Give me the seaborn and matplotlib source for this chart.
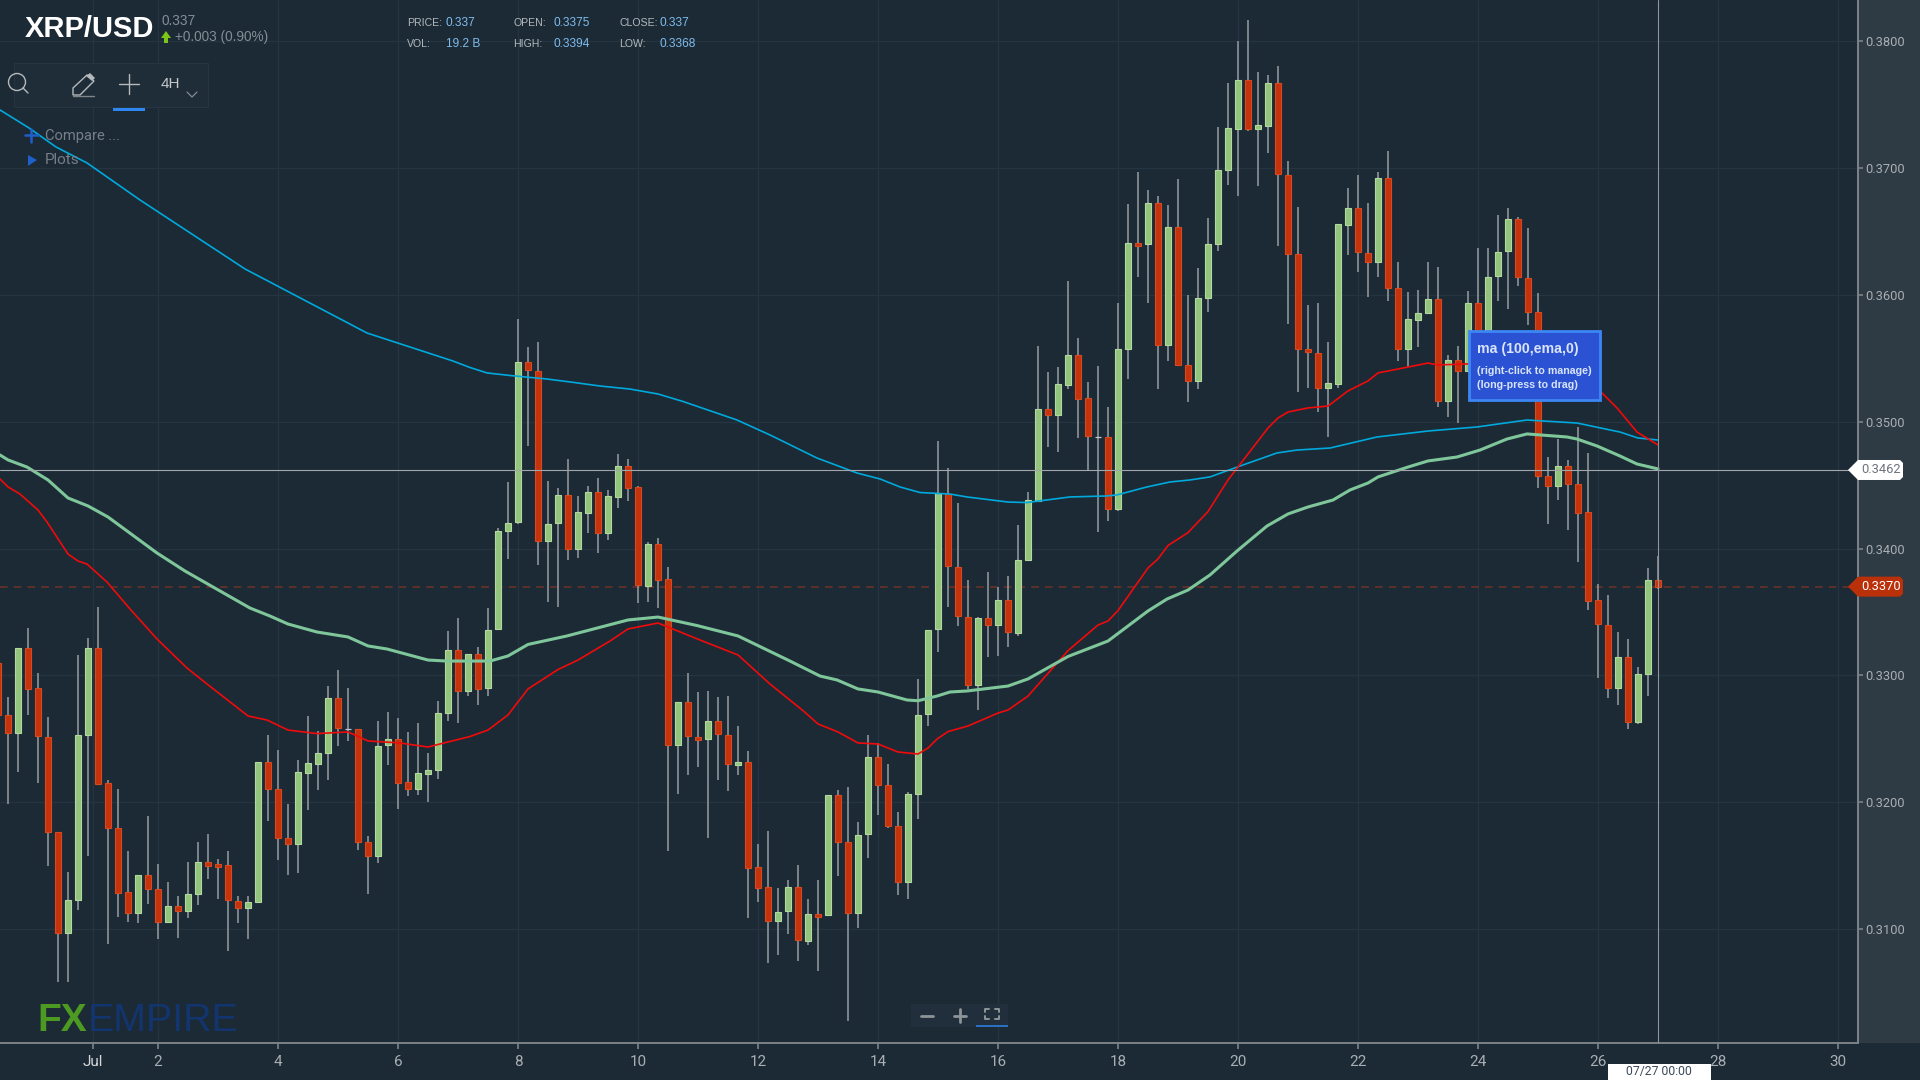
import matplotlib
matplotlib.use("Agg")
import matplotlib.pyplot as plt
from matplotlib.patches import Circle, Polygon, Rectangle
import numpy as np
import pandas as pd
import seaborn as sns

# candle -1 sits just off the left edge, one candle is 4 hours
candle_open = [
    .33099,
    .32684, .32548, .33217, .32901, .32516, .31765, .30965, .31225, .32529, .33217,
    .3215, .31794, .31289, .31123, .31428, .31318, .31053, .31182, .31144, .31273,
    .31527, .31513, .31508, .31222, .31166, .31214, .32318, .32107, .31714, .31668,
    .3223, .32302, .32388, .32821, .3258, .3258, .31684, .31572, .32449, .32495,
    .3216, .32104, .32222, .32251, .32706, .33198, .32877, .33166, .32897, .33364,
    .3414, .34208, .3547, .35399, .34062, .342, .34424, .33995, .34279, .34443,
    .34122, .34409, .34652, .34484, .33707, .3404, .33759, .32452, .32792, .32516,
    .32501, .32643, .32531, .32292, .32314, .31485, .31328, .31066, .31141, .31328,
    .30906, .31119, .31111, .32056, .31683, .3113, .31746, .32359, .32138, .3181,
    .31373, .32064, .32699, .33364, .34429, .33854, .3346, .32926, .33449, .33399,
    .33598, .33338, .33913, .34374, .35097, .35057, .3529, .35524, .35188, .34882,
    .34882, .34315, .35576, .36408, .36405, .36723, .35608, .36539, .35445, .35322,
    .35973, .36405, .36986, .37312, .37694, .37312, .37331, .37672, .36944, .36321,
    .35575, .35543, .35265, .35301, .36555, .36687, .36332, .36258, .36923, .36053,
    .35577, .35806, .35856, .35969, .35162, .35485, .35399, .35938, .3553, .36151,
    .36345, .366, .36132, .35869, .34575, .3449, .34654, .34513, .3429, .33598,
    .33398, .32898, .33144, .32633, .33008, .3375,
]
candle_close = [
    .3269,
    .32548, .33217, .32896, .32521, .31767, .30965, .31225, .32527, .33217, .32142,
    .31797, .31281, .31123, .31428, .31313, .31056, .31182, .31144, .31278, .31527,
    .315, .31486, .31227, .31166, .31211, .32318, .32104, .31719, .31668, .32238,
    .32307, .32385, .32821, .32588, .3258, .3169, .31572, .32446, .32495, .32155,
    .32104, .32227, .32257, .32703, .33198, .32877, .33166, .32896, .33356, .34137,
    .34204, .3547, .35407, .34062, .34193, .34424, .33995, .34286, .34443, .34122,
    .34413, .34652, .34477, .33711, .3404, .33756, .32452, .32792, .32519, .3249,
    .32643, .32538, .32299, .32318, .31481, .3132, .31066, .31137, .31328, .3091,
    .31119, .31096, .32056, .31687, .3113, .31743, .32359, .32135, .31813, .31373,
    .32067, .32691, .33356, .34435, .33863, .33469, .32926, .33452, .33399, .33598,
    .33341, .33907, .3438, .35097, .35057, .35296, .35524, .35182, .34887, .34882,
    .34315, .3557, .36408, .36387, .36723, .35608, .36539, .35451, .35322, .35976,
    .36399, .36984, .37318, .37694, .37312, .37339, .37672, .3695, .36324, .35576,
    .35548, .35265, .35307, .36558, .36687, .36337, .36258, .36923, .36053, .35577,
    .35809, .35859, .35969, .35162, .35485, .35399, .3594, .3553, .36145, .36342,
    .366, .3614, .35864, .34576, .3449, .34654, .3451, .34281, .3359, .33404,
    .32898, .33144, .32633, .33014, .33756, .337,
]
candle_high = [
    .3335,
    .32829, .33217, .33372, .33016, .32671, .31767, .31452, .33163, .33294, .3354,
    .32174, .32107, .31612, .31428, .31888, .31513, .31374, .31264, .31532, .31687,
    .31751, .31553, .31612, .31264, .31264, .32318, .32532, .32412, .31989, .32334,
    .32679, .32561, .32917, .33045, .32898, .3258, .3173, .32639, .32711, .3266,
    .32553, .32628, .32385, .32797, .3335, .33452, .33166, .33225, .33535, .34159,
    .34525, .35814, .35586, .35627, .34533, .34477, .34704, .34417, .34491, .34559,
    .34465, .34745, .34704, .34491, .34051, .34084, .33853, .32792, .33016, .32867,
    .32874, .32829, .32837, .32598, .32407, .31668, .31769, .31324, .31384, .31503,
    .31235, .31384, .32056, .32094, .32123, .3184, .32531, .32467, .32303, .31922,
    .32082, .32975, .33356, .34846, .34634, .34356, .33755, .3346, .33819, .33694,
    .33781, .34187, .34447, .35596, .35389, .3543, .3611, .35658, .35313, .35436,
    .35115, .35935, .3672, .36968, .36831, .36781, .36711, .36918, .35999, .36209,
    .36603, .37323, .3767, .38004, .38172, .37757, .37738, .37807, .37057, .36692,
    .35924, .35935, .35627, .36563, .36842, .36947, .36724, .36971, .37136, .36258,
    .36022, .36043, .36258, .36219, .3553, .35598, .36032, .36369, .36369, .36634,
    .36684, .36613, .36526, .36014, .34721, .34868, .34699, .34959, .3475, .33722,
    .33632, .33339, .33288, .33068, .33849, .3394,
]
candle_low = [
    .3240,
    .31989, .32235, .3269, .32155, .315, .30583, .30583, .31147, .31572, .32136,
    .3088, .31096, .31059, .31048, .31198, .3092, .31053, .3093, .31088, .31187,
    .31393, .31238, .30823, .31048, .3092, .31214, .3185, .31543, .31425, .31444,
    .31938, .32096, .32176, .32444, .32481, .3162, .31275, .31524, .32294, .31949,
    .32045, .32056, .32005, .32184, .32639, .32628, .3284, .32765, .32841, .33364,
    .33916, .34193, .34805, .33868, .3358, .33539, .33913, .33924, .34122, .33965,
    .34069, .3432, .34379, .33569, .3358, .33532, .31619, .32064, .32213, .3228,
    .3172, .32176, .32086, .32213, .31089, .31212, .3073, .30798, .30958, .30749,
    .30876, .30671, .31104, .31421, .30275, .31007, .31563, .31899, .31799, .31272,
    .31235, .31866, .32598, .33184, .33539, .3339, .32891, .32728, .33145, .33154,
    .33224, .33309, .33913, .34368, .348, .34762, .35261, .3487, .34613, .34132,
    .34216, .34298, .35334, .36142, .35935, .35255, .3548, .35451, .35153, .35255,
    .35865, .3635, .36871, .36784, .37294, .36863, .37118, .3639, .35769, .35232,
    .35267, .35075, .34883, .35267, .36316, .36179, .35985, .36143, .35956, .35483,
    .35435, .35591, .35856, .35115, .35038, .34988, .35397, .3548, .3540, .35956,
    .35888, .36074, .35767, .34476, .34197, .34383, .34146, .33892, .33514, .32983,
    .32825, .32763, .32577, .32616, .32834, .3368,
]

ema_slow_x = [-.8, 2.1, 4.8, 7.9, 13.2, 23.7, 35.9, 44.5, 46.2, 47.9, 50.2, 53.9, 56.2, 59.2, 62.2, 65, 67.5,
              72.9, 76.2, 80.9, 84.9, 87.2, 89.2, 91.2, 94.2, 95.9, 100, 101.9, 106.2, 109.9, 110.9, 113.9,
              116.2, 118.2, 120.2, 123.2, 126.9, 128.9, 132.2, 136.9, 142, 146.9, 151.9, 156.9, 161.2, 163, 165]
ema_slow = [.37459, .37317, .37167, .37041, .36749, .36205, .357, .35479, .35428, .35385, .35365, .35337, .35314,
            .35282, .35258, .35219, .3516, .35014, .34896, .34714, .34596, .34549, .34486, .34442, .3443, .34407,
            .34367, .34363, .34407, .34415, .34423, .34486, .34525, .34541, .34565, .34651, .34754, .34777,
            .34793, .3488, .34927, .34959, .35014, .3499, .34919, .34872, .34856]

ema_mid_x = [-.8, 0, 1.9, 4, 6, 8, 10, 14.9, 17.7, 20.5, 24.2, 26.2, 28, 30.9, 34, 36, 37.9, 42, 43.9, 48.2, 50, 52,
             55.9, 62, 65, 68.9, 73, 78.2, 81.2, 82.9, 85, 87, 89.9, 91, 92.9, 94.2, 95.9, 100, 102, 106, 110, 114,
             115.9, 118, 120.2, 122.9, 125.9, 128, 130, 132.5, 134.2, 136, 137, 140, 142, 144.9, 147.2, 149.9,
             151.9, 155.9, 156.9, 158.9, 161.2, 162.9, 165]
ema_mid = [.34738, .34699, .34643, .34541, .34399, .34336, .34249, .33965, .33823, .33697, .33531, .33468, .33405,
           .33342, .33303, .33232, .33208, .33121, .33113, .33113, .33153, .33244, .33311, .33437, .3346, .33393,
           .33311, .33113, .32995, .32964, .32893, .32869, .32806, .328, .32837, .32869, .32877, .32916, .32972,
           .33149, .33271, .33508, .33602, .33673, .33792, .33981, .34178, .34273, .34328, .34383, .34462, .34517,
           .34565, .34643, .34691, .34722, .34777, .34864, .34904, .3488, .34864, .34809, .3473, .34667, .34628]

ema_fast_x = [-.8, 0, 1.2, 3, 3.9, 6, 7, 7.9, 9.9, 12.2, 14.9, 17.9, 19.9, 24, 25.9, 28, 30.9, 34, 36, 39.2, 42, 44,
              46.2, 48, 50, 52, 55, 57, 60.2, 62, 65, 69.2, 73, 76.2, 79.5, 81, 83, 85, 87, 89, 91, 92, 92.9, 94, 96,
              99, 100, 102, 106, 109, 110, 111, 114, 115, 116, 118, 120, 122, 126, 127, 128, 130, 132, 134, 136,
              137, 139, 142, 143, 145.9, 149.2, 154.2, 159.4, 160.9, 162.9, 165]
ema_fast = [.34549, .34486, .3443, .34304, .3421, .33957, .33902, .33878, .33736, .33524, .33287, .33058, .32932,
            .3268, .32648, .32569, .32541, .32554, .32483, .32467, .32435, .32475, .32518, .32569, .32688, .32893,
            .33046, .33121, .33271, .33366, .33413, .33279, .33161, .32932, .32722, .32617, .32554, .32467, .32459,
            .32396, .3238, .32427, .32498, .32557, .32601, .32703, .32727, .32837, .33195, .33397, .33429, .33511,
            .33847, .33918, .34024, .34126, .34292, .34541, .34951, .3503, .35077, .35109, .35124, .35243, .35322,
            .35385, .35416, .35463, .35448, .35456, .35471, .35392, .35227, .35109, .34919, .34817]

price_ticks = [.31, .32, .33, .34, .35, .36, .37, .38]
day_ticks = [2, 4, 6, 8, 10, 12, 14, 16, 18, 20, 22, 24, 26, 28, 30]
jul_tick = 8.5
last_price = 0.337
cross_price = 0.3462

BG = "#1c2a36"
BAND = "#2e3a44"
GRID = "#243441"
AXIS = "#7c8388"
TICK = "#a9afb3"
SANS = ["Liberation Sans", "DejaVu Sans"]
ROBOTO = ["Roboto", "DejaVu Sans"]

sns.set_theme(style="dark", rc={
    "figure.facecolor": BG,
    "axes.facecolor": BG,
    "axes.edgecolor": AXIS,
    "axes.linewidth": 1.4,
    "grid.color": GRID,
    "grid.linewidth": 0.9,
    "axes.grid": True,
})
plt.rcParams["font.family"] = ["Roboto", "Liberation Sans", "DejaVu Sans"]

df = pd.DataFrame({"open": candle_open, "high": candle_high, "low": candle_low, "close": candle_close})
df["idx"] = np.arange(len(df)) - 1

fig = plt.figure(figsize=(19.2, 10.8), dpi=100)

# lighter strip behind the price labels
band = fig.add_axes([1858 / 1920, 37 / 1080, 62 / 1920, 1043 / 1080], zorder=1, facecolor=BAND)
band.set_xticks([])
band.set_yticks([])
band.grid(False)
for spine in band.spines.values():
    spine.set_visible(False)

ax = fig.add_axes([0, 37 / 1080, 1858 / 1920, 1043 / 1080], zorder=5)
ax.set_xlim(-0.8, 185)
ax.set_ylim(0.30101, 0.38326)

up = df[df.close > df.open]
down = df[df.close < df.open]
flat = df[df.close == df.open]

ax.axhline(last_price, color="#6f3227", lw=1.1, dashes=(5, 4), zorder=1.5)
ax.vlines(df.idx, df.low, df.high, color="#8d9498", lw=1.2, zorder=2)
ax.bar(up.idx, up.close - up.open, bottom=up.open, width=0.56, color="#93c47d", edgecolor="#b4d9a0", lw=0.8, zorder=3)
ax.bar(down.idx, down.close - down.open, bottom=down.open, width=0.56, color="#c5330d", edgecolor="#d8491f", lw=0.8, zorder=3)
ax.hlines(flat.open, flat.idx - 0.28, flat.idx + 0.28, color="#c4c8ca", lw=0.9, zorder=3)

sns.lineplot(x=ema_slow_x, y=ema_slow, color="#00a9dc", lw=1.2, ax=ax, estimator=None, sort=False, zorder=4)
sns.lineplot(x=ema_fast_x, y=ema_fast, color="#f00a0a", lw=1.2, ax=ax, estimator=None, sort=False, zorder=4)
sns.lineplot(x=ema_mid_x, y=ema_mid, color="#7fc79b", lw=2.2, ax=ax, estimator=None, sort=False, zorder=4)

# crosshair on the last candle
ax.axhline(cross_price, color="#a2a7ab", lw=0.8, zorder=5)
ax.axvline(165, color="#8f9599", lw=0.8, zorder=5)

tick_pos = [jul_tick] + [15 + (d - 2) * 6 for d in day_ticks]
tick_lab = ["Jul"] + [str(d) for d in day_ticks]
ax.set_xticks(tick_pos, tick_lab)
ax.set_yticks(price_ticks, [f"{p:.4f}" for p in price_ticks])
ax.yaxis.tick_right()
ax.tick_params(axis="x", length=4.5, width=1.2, color=AXIS, labelcolor=TICK, labelsize=11, pad=4, bottom=True)
ax.tick_params(axis="y", length=3.5, width=1.2, color=AXIS, labelcolor=TICK, labelsize=9.3, pad=2, right=True, left=False)
ax.get_xticklabels()[0].set_color("#d5d8da")
for side in ("top", "left"):
    ax.spines[side].set_visible(False)
ax.set_axisbelow(True)

# overlay in screen pixels for the platform chrome
ui = fig.add_axes([0, 0, 1, 1], zorder=10)
ui.set_xlim(0, 1920)
ui.set_ylim(1080, 0)
ui.axis("off")
ui.patch.set_alpha(0)


def price_y(p):
    return 929 - (p - 0.31) * 12680


def txt(x, y, s, color, size, ha="left", weight="normal", family=SANS):
    ui.text(x, y, s, color=color, fontsize=size, ha=ha, va="center", weight=weight, family=family)


def tag(p, fc, tc):
    y = price_y(p)
    ui.add_patch(Polygon([(1848, y), (1858, y - 10), (1900, y - 10), (1903, y - 7), (1903, y + 7), (1900, y + 10),
                          (1858, y + 10)], closed=True, fc=fc, ec="none"))
    txt(1881, y, f"{p:.4f}", tc, 9.3, ha="center", family=ROBOTO)


tag(cross_price, "#ffffff", "#6d7378")
tag(last_price, "#b93009", "#ffffff")

# header
GREY = "#b4b9bc"
BLUE = "#7fbcec"
txt(25, 29, "XRP/USD", "#ffffff", 21, weight="bold")
txt(161, 21, "0.337", "#848d93", 9.8)
txt(175, 37, "+0.003 (0.90%)", "#848d93", 9.8)
ui.add_patch(Polygon([(166, 31), (171, 38), (168, 38), (168, 43), (164, 43), (164, 38), (161, 38)], fc="#7cc417", ec="none"))
for x, y, s in [(407, 23, "PRICE:"), (513, 23, "OPEN:"), (619, 23, "CLOSE:"),
                (407, 44, "VOL:"), (513, 44, "HIGH:"), (619, 44, "LOW:")]:
    txt(x, y, s, GREY, 7.6)
for x, y, s in [(446, 23, "0.337"), (553, 23, "0.3375"), (659, 23, "0.337"),
                (446, 44, "19.2 B"), (553, 44, "0.3394"), (659, 44, "0.3368")]:
    txt(x, y, s, BLUE, 8.6)

# toolbar
ui.add_patch(Rectangle((14, 63), 194, 44, fc="#1f2d39", ec="#263541", lw=0.8))
ICON = "#b4b9bc"
ui.add_patch(Circle((17, 82), 8.5, fc="none", ec=ICON, lw=1))
ui.plot([23, 28], [88, 93], color=ICON, lw=1)
ui.add_patch(Polygon([(73, 95), (73, 88), (87, 75), (94, 81), (80, 95)], fc="none", ec=ICON, lw=1))
ui.add_patch(Polygon([(86, 76), (90, 73), (95, 78), (92, 81)], fc=ICON, ec="none"))
ui.plot([73, 94], [95.5, 95.5], color="#7f868a", lw=1)
ui.plot([129, 129], [74, 94], color=ICON, lw=1)
ui.plot([119, 139], [84, 84], color=ICON, lw=1)
ui.add_patch(Rectangle((113, 108), 32, 3, fc="#2e86f0", ec="none"))
txt(161, 84, "4H", "#c4c8ca", 11)
ui.plot([187, 192, 197], [92, 97, 92], color="#8d9498", lw=0.8)

ui.plot([31, 31], [129, 142], color="#1f5fc8", lw=1.8)
ui.plot([25, 38], [135, 135], color="#1f5fc8", lw=1.8)
txt(45, 136, "Compare ...", "#767f87", 10.6, family=ROBOTO)
ui.add_patch(Polygon([(28, 155), (37, 160), (28, 166)], fc="#1f5fc8", ec="none"))
txt(45, 160, "Plots", "#767f87", 11, family=ROBOTO)

# logo
txt(37, 1021, "FX", "#4d9a22", 28, weight="bold")
txt(88, 1021, "EMPIRE", "#12356f", 28.3)

# tooltip of the hovered moving average
ui.add_patch(Rectangle((1469, 331), 131, 69, fc="#2b52d2", ec="#3d87f5", lw=2))
txt(1477, 349, "ma (100,ema,0)", "#d8e4fb", 10.2, weight="bold")
txt(1477, 371, "(right-click to manage)", "#d8e4fb", 7.7, weight="bold")
txt(1477, 385, "(long-press to drag)", "#d8e4fb", 7.7, weight="bold")

# zoom controls
ui.add_patch(Rectangle((911, 1004), 97, 23, fc="#202f3b", ec="none"))
ui.plot([921, 933], [1015.5, 1015.5], color="#8d9498", lw=2)
ui.plot([954, 966], [1015.5, 1015.5], color="#8d9498", lw=2)
ui.plot([960, 960], [1009, 1022], color="#8d9498", lw=2)
for sx, sy in [(-1, -1), (1, -1), (-1, 1), (1, 1)]:
    ui.plot([992 + sx * 7, 992 + sx * 7, 992 + sx * 3], [1014 + sy * 2, 1014 + sy * 5, 1014 + sy * 5], color="#8d9498", lw=1.4)
ui.add_patch(Rectangle((976, 1025), 32, 2, fc="#2a6fc0", ec="none"))

# date flag under the crosshair
ui.add_patch(Rectangle((1608, 1064), 103, 16, fc="#ffffff", ec="none"))
txt(1659, 1071.5, "07/27 00:00", "#3a4a5c", 8.8, ha="center", family=ROBOTO)

fig.savefig("out.png", dpi=100, facecolor=BG)
